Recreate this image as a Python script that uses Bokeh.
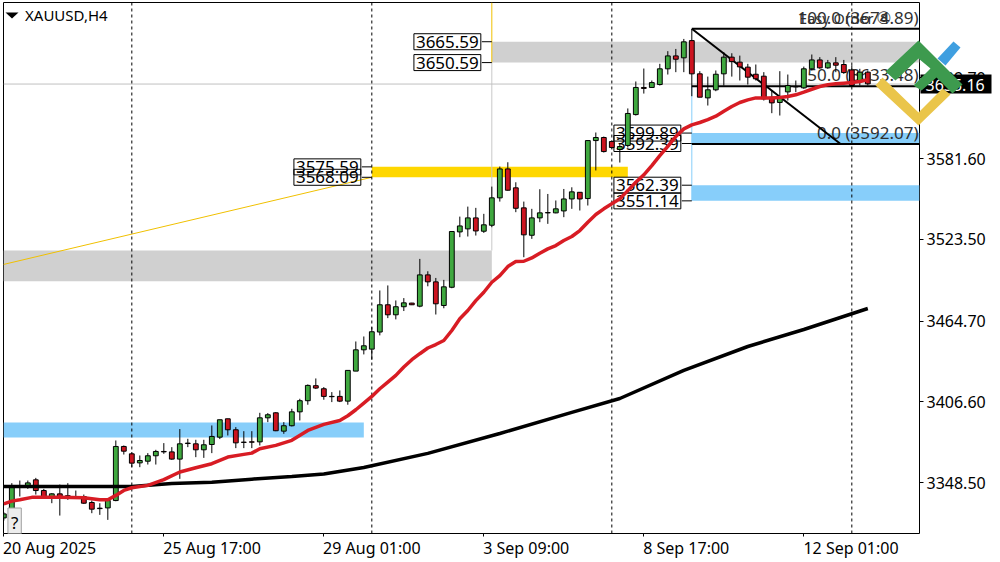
from bokeh.plotting import figure
from bokeh.embed import file_html
from bokeh.resources import INLINE
from bokeh.core.properties import value
from bokeh.models import (Range1d, FixedTicker, NumeralTickFormatter, Label,
                          PolyAnnotation, ColumnDataSource)

# index of each H4 candle is its position in these lists
opens = [3323.1,3323.6,3345.7,3346.2,3350.5,3342.8,3338.5,3340.4,3339.0,3338.5,
 3338.5,3334.2,3330.1,3330.3,3335.6,3374.5,3369.2,3362.7,3363.9,3367.8,
 3370.9,3370.6,3365.4,3376.9,3376.4,3372.1,3375.9,3381.2,3394.4,3386.5,
 3377.6,3377.8,3377.8,3395.1,3398.7,3385.5,3389.4,3399.4,3407.4,3418.2,
 3416.0,3410.5,3410.5,3407.1,3428.7,3444.0,3444.5,3456.8,3476.4,3469.2,
 3475.0,3477.6,3475.4,3497.9,3492.9,3475.9,3489.0,3528.8,3531.0,3538.9,
 3529.3,3533.6,3553.3,3574.1,3560.5,3546.1,3526.4,3538.9,3542.7,3542.5,
 3543.9,3552.5,3557.3,3552.8,3594.5,3596.7,3593.8,3588.1,3591.0,3613.2,
 3632.7,3632.7,3634.8,3646.1,3655.4,3654.0,3666.4,3642.5,3625.2,3631.0,
 3642.5,3654.5,3650.9,3647.3,3642.2,3640.8,3625.7,3621.9,3629.5,3633.4,
 3632.4,3646.1,3652.5,3646.8,3650.4,3649.2,3645.3,3637.7,3643.7]
highs = [3327.2,3348.1,3350.0,3350.0,3351.9,3344.0,3340.9,3347.1,3348.1,3342.8,
 3339.9,3335.6,3333.7,3336.8,3378.8,3375.2,3370.4,3368.0,3369.7,3372.1,
 3376.9,3374.0,3387.0,3380.0,3379.3,3379.3,3389.6,3393.7,3394.4,3388.4,
 3385.5,3385.5,3398.7,3398.5,3399.2,3392.0,3401.6,3408.8,3419.1,3423.4,
 3417.2,3413.6,3414.8,3429.2,3450.0,3453.6,3460.3,3486.7,3490.3,3479.5,
 3481.2,3477.8,3509.4,3500.5,3495.7,3494.3,3529.3,3539.8,3547.0,3546.1,
 3541.8,3561.4,3575.8,3578.9,3564.5,3550.6,3545.4,3559.5,3556.1,3551.4,
 3559.7,3560.9,3557.3,3594.5,3600.3,3597.4,3594.5,3592.4,3617.6,3637.0,
 3646.3,3637.7,3649.7,3658.8,3660.4,3667.6,3674.8,3644.4,3640.5,3644.9,
 3658.0,3657.3,3655.6,3649.7,3649.2,3643.7,3630.5,3644.4,3642.0,3637.7,
 3647.7,3656.4,3654.5,3652.5,3654.5,3652.5,3648.5,3646.1,3644.9]
lows = [3321.2,3321.2,3338.5,3344.0,3339.9,3338.0,3333.7,3324.8,3336.1,3337.5,
 3333.2,3326.5,3325.3,3321.7,3335.1,3368.7,3359.6,3359.6,3361.5,3361.5,
 3369.2,3364.9,3351.2,3374.0,3366.8,3366.3,3369.7,3379.8,3382.4,3373.3,
 3373.3,3373.3,3375.2,3392.0,3385.5,3383.6,3388.9,3393.2,3404.5,3415.8,
 3408.1,3406.4,3406.4,3404.5,3428.7,3440.7,3436.9,3454.4,3466.8,3465.9,
 3471.9,3476.2,3474.6,3489.7,3469.4,3473.9,3488.3,3525.0,3525.5,3526.2,
 3528.1,3532.2,3550.6,3558.5,3543.0,3510.6,3523.8,3535.8,3534.6,3542.2,
 3539.4,3545.4,3544.2,3547.8,3573.0,3585.9,3588.8,3578.7,3589.5,3612.5,
 3628.3,3632.3,3634.1,3642.0,3643.7,3643.7,3626.4,3625.7,3619.7,3630.0,
 3634.0,3640.5,3637.7,3634.8,3637.7,3623.3,3614.2,3612.5,3623.3,3629.3,
 3631.7,3644.9,3646.1,3646.1,3643.7,3642.5,3633.4,3634.1,3634.1]
closes = [3326.0,3345.7,3345.5,3348.3,3342.8,3338.5,3340.4,3338.5,3338.8,3338.3,
 3333.7,3329.4,3329.8,3335.6,3374.5,3371.1,3362.5,3364.4,3367.8,3370.9,
 3370.6,3365.4,3376.4,3376.6,3372.1,3375.7,3381.7,3393.7,3386.5,3377.1,
 3377.4,3377.6,3395.1,3397.3,3385.8,3389.4,3399.4,3407.4,3418.4,3416.5,
 3410.5,3410.3,3407.1,3429.2,3444.0,3446.9,3457.0,3476.4,3469.2,3475.0,
 3477.8,3476.4,3497.9,3492.9,3477.1,3489.3,3529.1,3533.1,3538.9,3529.5,
 3533.9,3553.3,3574.1,3558.8,3545.8,3526.7,3538.9,3542.5,3542.5,3545.4,
 3552.5,3557.6,3552.5,3594.5,3596.7,3586.6,3589.5,3590.2,3614.0,3632.7,
 3632.0,3636.2,3646.1,3655.4,3653.0,3665.5,3642.5,3625.7,3631.0,3642.2,
 3654.5,3651.3,3647.5,3640.1,3638.9,3624.5,3621.6,3625.9,3634.1,3633.1,
 3646.1,3652.5,3646.8,3650.4,3648.7,3643.4,3634.1,3643.7,3635.3]

red_ma_x = [0,1,2,3.5,7,10,12,13,14,15,16,18,20,22,24,26,28,30,31,32,34,36,38,40,
 42,43,44,45,46,47,48,49,50,51,52,53,54,55,56,57,58,59,60,61,62,63,64,65,66,67,68,
 69,70,71,72,73,74,75,76,77,78,79,80,81,82,83,84,85,86,87,88,89,90,91,92,93,94,95,
 96,97,98,99,100,101,102,103,104,105,106,107,108]
red_ma_y = [3333.2,3335.2,3336.2,3337.9,3337.9,3337.6,3336.2,3336.2,3339.3,3342.9,
 3344.8,3346.5,3350.6,3356.1,3359.2,3362.1,3366.9,3368.8,3369.7,3372.9,3375.3,
 3378.9,3386.0,3390.4,3393.2,3396.6,3400.9,3405.7,3410.5,3416.0,3420.8,3425.6,
 3431.6,3436.9,3441.2,3445.3,3447.8,3450.7,3457.9,3466.3,3472.3,3479.4,3485.4,
 3492.6,3497.4,3503.9,3507.5,3507.7,3510.1,3513.5,3516.6,3519.0,3522.6,3525.5,
 3529.8,3535.8,3541.3,3545.4,3549.0,3552.6,3558.5,3564.5,3569.8,3576.5,3583.7,
 3590.4,3597.4,3602.9,3605.8,3607.5,3609.6,3612.0,3615.6,3619.0,3621.9,3623.8,
 3625.2,3625.2,3625.2,3625.4,3626.2,3627.4,3629.3,3631.4,3633.4,3634.6,3635.3,
 3635.8,3636.2,3637.0,3638.2]
black_ma_x = [0,13,16,21,26,31,36,40,45,53,62,71,77,85,93,100,108]
black_ma_y = [3345.7,3345.7,3345.7,3347.9,3348.8,3351.0,3352.9,3354.7,3359.4,3369.5,
 3383.8,3399.0,3409.0,3429.2,3446.4,3458.6,3473.7]

price_ticks = [3639.70,3581.60,3523.50,3464.70,3406.60,3348.50]
time_ticks = [0,20,40,60,80,100]
time_label_centers = [5.71,26.03,46.0,65.3,85.3,105.9]
time_labels = ["20 Aug 2025","25 Aug 17:00","29 Aug 01:00","3 Sep 09:00","8 Sep 17:00","12 Sep 01:00"]
separators = [16,46,76,106]

zone_left = [-0.04,-0.04,46,61,86,86]
zone_right = [45,61,78,114.46,114.46,114.46]
zone_top = [3391.8,3515.4,3575.59,3665.59,3599.89,3562.39]
zone_bottom = [3381.0,3493.4,3568.09,3650.59,3592.39,3551.14]
zone_color = ["#87CEFA","#D0D0D0","#FFD700","#D0D0D0","#87CEFA","#87CEFA"]

fib_prices = [3674.89,3633.48,3592.07]
fib_labels = ["100.0 (3674.89)","50.0 (3633.48)","0.0 (3592.07)"]
fib_start, fib_end = 86, 104.6
bid = 3635.16
box_x = [61,61,46,46,86,86,86,86]
box_price = [3665.59,3650.59,3575.59,3568.09,3599.89,3592.39,3562.39,3551.14]

FONT = "Noto Sans"
X0, X1 = -0.04, 114.46
Y0, Y1 = 3311.9, 3693.8

p = figure(width=1000, height=562, output_backend="svg", toolbar_location=None,
           x_range=Range1d(X0, X1), y_range=Range1d(Y0, Y1),
           y_axis_location="right", min_border_left=3, min_border_right=81,
           min_border_top=2, min_border_bottom=29, background_fill_color="white")
p.grid.visible = False
p.outline_line_color = "black"
p.outline_line_width = 1

ax = p.xaxis[0]
ax.ticker = FixedTicker(ticks=time_label_centers, minor_ticks=time_ticks)
ax.major_label_overrides = {c: t for c, t in zip(time_label_centers, time_labels)}
ax.major_tick_line_color = None
ax.major_tick_out = 0
ax.major_tick_in = 0
ax.minor_tick_out = 3
ax.minor_tick_in = 0
ax.minor_tick_line_color = "black"
ax.axis_line_color = None
ax.major_label_text_font = FONT
ax.major_label_text_font_size = "16px"
ax.major_label_text_color = "black"
ax.major_label_standoff = 0

ay = p.yaxis[0]
ay.ticker = FixedTicker(ticks=price_ticks)
ay.formatter = NumeralTickFormatter(format="0.00")
ay.major_tick_in = 0
ay.major_tick_out = 4
ay.minor_tick_line_color = None
ay.axis_line_color = None
ay.major_tick_line_color = "black"
ay.major_label_text_font = FONT
ay.major_label_text_font_size = "16px"
ay.major_label_text_color = "black"
ay.major_label_standoff = 3

p.quad(left=zone_left, right=zone_right, top=zone_top, bottom=zone_bottom,
       color=zone_color, line_color=None, level="image")

# construction lines
p.segment(x0=[-0.04], y0=[3505.4], x1=[46], y1=[3568.09], color="#F0C000", line_width=1, level="image")
p.segment(x0=[61], y0=[3650.59], x1=[61], y1=[3693.8], color="#F0C000", line_width=1)
p.segment(x0=[61], y0=[3515.4], x1=[61], y1=[3650.59], color="#C8C8C8", line_width=1)
p.segment(x0=[86], y0=[3551.14], x1=[86], y1=[3633.48], color="#87CEFA", line_width=1)
p.segment(x0=[X0], y0=[bid], x1=[X1], y1=[bid], color="#C0C0C0", line_width=1)
p.segment(x0=separators, y0=[Y0]*4, x1=separators, y1=[Y1]*4, color="black",
          line_width=1, line_dash="3 3")
p.segment(x0=[b-1.25 for b in box_x], y0=box_price, x1=box_x, y1=box_price, color="black", line_width=1)

# fibonacci lines sit below the candles
for price in fib_prices:
    p.segment(x0=[fib_start], y0=[price], x1=[X1], y1=[price], color="black", line_width=2)
p.segment(x0=[fib_start], y0=[fib_prices[0]], x1=[fib_end], y1=[fib_prices[2]], color="black", line_width=2)

# candles
idx = list(range(len(opens)))
cols = ["#3FA83F" if c >= o else "#CC1420" for o, c in zip(opens, closes)]
src = ColumnDataSource(dict(x=idx, o=opens, h=highs, l=lows, c=closes, col=cols))
p.segment(x0="x", y0="l", x1="x", y1="h", source=src, color="black", line_width=1)
p.vbar(x="x", top="o", bottom="c", width=0.6, source=src, fill_color="col", line_color="black", line_width=1)

p.line(black_ma_x, black_ma_y, color="black", line_width=3.5)
p.line(red_ma_x, red_ma_y, color="#D81C24", line_width=3.5)

for price, t in zip(fib_prices, fib_labels):
    p.add_layout(Label(x=X1, y=price, text=t, text_align="right", text_baseline="bottom",
                       x_offset=-1, y_offset=0, text_font=FONT, text_font_size="17px",
                       text_color="#303030", level="underlay"))

# boxed prices
for i, (b, pr) in enumerate(zip(box_x, box_price)):
    p.add_layout(Label(x=b, y=pr, text=f"{pr:.2f}", text_align="right", text_baseline="middle",
                       x_offset=-11, text_font=FONT, text_font_size="17px", text_color="black",
                       background_fill_color="white", background_fill_alpha=1.0 if i % 2 == 0 else 0.0,
                       border_line_color="black", border_line_width=1, padding=2, level="underlay"))

p.add_layout(Label(x=X1, y=3683, text="Easy Order", text_align="right", text_baseline="middle",
                   x_offset=-46, text_font=FONT, text_font_size="14.5px", text_color="#303030"))
p.add_layout(Label(x=X1, y=3683, text="\u2467", text_align="right", text_baseline="middle",
                   x_offset=-28, text_font="DejaVu Sans", text_font_size="17px", text_color="#303030"))
p.add_layout(Label(x=2.65, y=3685, text="XAUUSD,H4", text_align="left", text_baseline="middle",
                   text_font=FONT, text_font_size="15px", text_color="black"))
p.add_layout(Label(x=1.35, y=3319.8, text="?", text_align="center", text_baseline="middle",
                   text_font=FONT, text_font_size="17px", text_color="black", padding=3,
                   background_fill_color="#EDEDED", border_line_color="#A0A0A0"))

def px(x):
    return X0 + (x - 3) / 8.0
def py(y):
    return Y1 - (y - 2) * (Y1 - Y0) / 531.0
p.add_layout(PolyAnnotation(xs=[px(a) for a in (5, 18, 11.5)], ys=[py(b) for b in (12, 12, 18)],
                            fill_color="black", fill_alpha=1, line_color=None))

# bid tag and logo, an overlay figure in page pixels, because marks of the main figure stop at its frame
LX0, LX1, LY0, LY1 = 868, 998, 36, 130
logo = figure(width=LX1-LX0, height=LY1-LY0, output_backend="svg", toolbar_location=None,
              x_range=Range1d(LX0, LX1), y_range=Range1d(LY1, LY0),
              min_border=0, outline_line_color=None, border_fill_alpha=0, background_fill_alpha=0)
logo.axis.visible = False
logo.grid.visible = False
logo.styles = {"position": "absolute", "left": f"{LX0}px", "top": f"{LY0}px"}
logo.quad(left=[920], right=[991], top=[74], bottom=[93], color="black", line_color=None)
logo.text(x=[925], y=[84], text=[f"{bid:.2f}"], text_color="white", text_baseline="middle",
          text_font=value(FONT), text_font_size="16px")
logo.patch([875,882,918,942,950,918], [85,77,112,88,94,125], color="#EAC54A", line_color=None)
logo.patch([937,953,960,945], [58,41,47,65], color="#3F9FE0", line_color=None)
logo.patch([918,962,952,936,921,913,930,918,895,885], [40,84,93,77,90,85,68,58,80,71], color="#3D9A4E", line_color=None)

open("out.html", "w").write(file_html([p, logo], INLINE))
